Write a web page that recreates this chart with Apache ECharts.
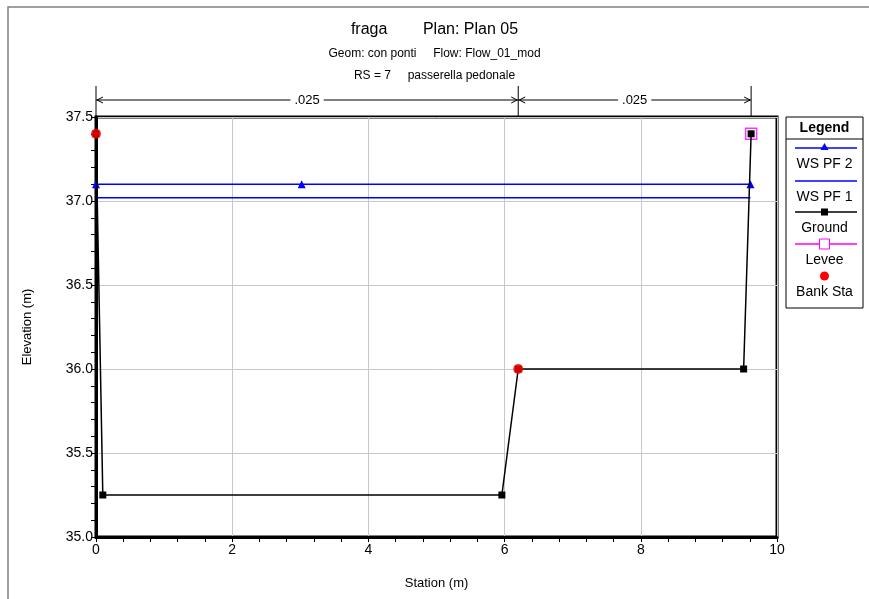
<!DOCTYPE html>
<html>
<head>
    <meta charset="utf-8">
    <title>fraga Plan: Plan 05</title>
    <script src="https://cdn.jsdelivr.net/npm/echarts@6.0.0/dist/echarts.min.js"></script>
    <style>
        html, body { margin: 0; padding: 0; background: #fff; }
        #chart { width: 869px; height: 599px; }
    </style>
</head>
<body>
<div id="chart"></div>
<script>
    // data read from the HEC-RAS cross section
    var wsPf2 = [[0, 37.1], [3.02, 37.1], [9.61, 37.1]];
    var wsPf1 = [[0, 37.02], [9.61, 37.02]];
    var ground = [[0, 37.4], [0.1, 35.25], [5.96, 35.25], [6.2, 36.0], [9.51, 36.0], [9.62, 37.4]];
    var levee = [[9.62, 37.4]];
    var bankSta = [[0, 37.4], [6.2, 36.0]];
    // manning n bands along the top
    var nStations = [0, 6.2, 9.62];
    var nValues = ['.025', '.025'];

    var FONT = '"Liberation Sans", Arial, sans-serif';
    var chart = echarts.init(document.getElementById('chart'));

    var option = {
        animation: false,
        backgroundColor: '#fff',
        textStyle: { fontFamily: FONT },
        title: [
            { text: 'fraga        Plan: Plan 05', left: 'center', top: 17,
              textStyle: { fontSize: 16, fontWeight: 'normal', color: '#000', fontFamily: FONT } },
            { text: 'Geom: con ponti     Flow: Flow_01_mod', left: 'center', top: 43,
              textStyle: { fontSize: 12, fontWeight: 'normal', color: '#000', fontFamily: FONT } },
            { text: 'RS = 7     passerella pedonale', left: 'center', top: 65,
              textStyle: { fontSize: 12, fontWeight: 'normal', color: '#000', fontFamily: FONT } }
        ],
        grid: {
            left: 96, right: 92, top: 117, bottom: 62,
            show: true, borderColor: '#000', borderWidth: 3, backgroundColor: '#fff'
        },
        xAxis: {
            type: 'value', min: 0, max: 10, interval: 2,
            name: 'Station (m)', nameLocation: 'middle', nameGap: 40,
            nameTextStyle: { fontSize: 13, color: '#000' },
            axisLine: { show: true, lineStyle: { color: '#000', width: 3 } },
            axisTick: { show: true, inside: false, length: 5, lineStyle: { color: '#000' } },
            minorTick: { show: true, splitNumber: 5, length: 5, lineStyle: { color: '#000' } },
            axisLabel: { fontSize: 14, color: '#000', margin: 6 },
            splitLine: { show: true, lineStyle: { color: '#c8c8c8', width: 1 } }
        },
        yAxis: {
            type: 'value', min: 35, max: 37.5, interval: 0.5,
            name: 'Elevation (m)', nameLocation: 'middle', nameGap: 62,
            nameTextStyle: { fontSize: 13, color: '#000' },
            axisLine: { show: true, lineStyle: { color: '#000', width: 3 } },
            axisTick: { show: true, inside: false, length: 5, lineStyle: { color: '#000' } },
            minorTick: { show: true, splitNumber: 5, length: 5, lineStyle: { color: '#000' } },
            axisLabel: { fontSize: 14, color: '#000', margin: 3,
                         formatter: function (v) { return v.toFixed(1); } },
            splitLine: { show: true, lineStyle: { color: '#c8c8c8', width: 1 } }
        },
        series: [
            { name: 'WS PF 1', type: 'line', data: wsPf1, showSymbol: false, symbol: 'none',
              lineStyle: { color: '#0000ff', width: 1.5 }, z: 3 },
            { name: 'WS PF 2', type: 'line', data: wsPf2, symbol: 'triangle', symbolSize: 8,
              itemStyle: { color: '#0000ff' }, lineStyle: { color: '#0000ff', width: 1.5 }, z: 3 },
            { name: 'Levee', type: 'scatter', data: levee, symbol: 'rect', symbolSize: 11,
              itemStyle: { color: '#fff', borderColor: '#ff00ff', borderWidth: 1.5 }, z: 4 },
            { name: 'Ground', type: 'line', data: ground, symbol: 'rect', symbolSize: 7,
              itemStyle: { color: '#000' }, lineStyle: { color: '#000', width: 1.5 }, z: 5 },
            { name: 'Bank Sta', type: 'scatter', data: bankSta, symbol: 'circle', symbolSize: 10,
              itemStyle: { color: '#ff0000' }, z: 6 }
        ]
    };
    chart.setOption(option);

    // roughness dimension line above the plot
    var g = [];
    var yTop = chart.convertToPixel({ gridIndex: 0 }, [0, 37.5])[1];
    var yDim = yTop - 17;
    var xs = nStations.map(function (s) { return chart.convertToPixel({ gridIndex: 0 }, [s, 37.5])[0]; });
    xs.forEach(function (x) {
        g.push({ type: 'line', shape: { x1: x, y1: yTop - 31, x2: x, y2: yTop }, style: { stroke: '#000', lineWidth: 1 } });
    });
    for (var i = 0; i < nValues.length; i++) {
        var a = xs[i], b = xs[i + 1];
        g.push({ type: 'line', shape: { x1: a, y1: yDim, x2: b, y2: yDim }, style: { stroke: '#000', lineWidth: 1 } });
        g.push({ type: 'polyline', shape: { points: [[a + 7, yDim - 3], [a + 1, yDim], [a + 7, yDim + 3]] }, style: { stroke: '#000', lineWidth: 1, fill: null } });
        g.push({ type: 'polyline', shape: { points: [[b - 7, yDim - 3], [b - 1, yDim], [b - 7, yDim + 3]] }, style: { stroke: '#000', lineWidth: 1, fill: null } });
        g.push({ type: 'text', x: (a + b) / 2, y: yDim, style: {
            text: nValues[i], fill: '#000', font: '13px ' + FONT, align: 'center', verticalAlign: 'middle',
            backgroundColor: '#fff', padding: [0, 4] } });
    }

    // outer frame
    g.push({ type: 'rect', shape: { x: 8, y: 7, width: 900, height: 700 }, style: { stroke: '#808080', lineWidth: 1.5, fill: null }, z: -10 });

    // legend box
    var lx = 786, lw = 77;
    g.push({ type: 'rect', shape: { x: lx, y: 117, width: lw, height: 191 }, style: { stroke: '#000', lineWidth: 1, fill: '#fff' } });
    g.push({ type: 'line', shape: { x1: lx, y1: 139, x2: lx + lw, y2: 139 }, style: { stroke: '#000', lineWidth: 1 } });
    g.push({ type: 'text', x: lx + lw / 2, y: 128, style: { text: 'Legend', font: 'bold 14px ' + FONT, fill: '#000', align: 'center', verticalAlign: 'middle' } });
    var items = [
        { name: 'WS PF 2', color: '#0000ff', sym: 'tri', y: 148 },
        { name: 'WS PF 1', color: '#0000ff', sym: null, y: 181 },
        { name: 'Ground', color: '#000', sym: 'sq', y: 212 },
        { name: 'Levee', color: '#ff00ff', sym: 'open', y: 244 },
        { name: 'Bank Sta', color: null, sym: 'dot', y: 276 }
    ];
    var cx = lx + lw / 2;
    items.forEach(function (it) {
        if (it.color) {
            g.push({ type: 'line', shape: { x1: lx + 9, y1: it.y, x2: lx + lw - 6, y2: it.y }, style: { stroke: it.color, lineWidth: 1.5 } });
        }
        if (it.sym === 'tri') {
            g.push({ type: 'polygon', shape: { points: [[cx - 4, it.y + 2], [cx + 4, it.y + 2], [cx, it.y - 5]] }, style: { fill: it.color } });
        } else if (it.sym === 'sq') {
            g.push({ type: 'rect', shape: { x: cx - 3.5, y: it.y - 3.5, width: 7, height: 7 }, style: { fill: '#000' } });
        } else if (it.sym === 'open') {
            g.push({ type: 'rect', shape: { x: cx - 5, y: it.y - 5, width: 10, height: 10 }, style: { fill: '#fff', stroke: '#ff00ff', lineWidth: 1 } });
        } else if (it.sym === 'dot') {
            g.push({ type: 'circle', shape: { cx: cx, cy: it.y, r: 4.5 }, style: { fill: '#ff0000' } });
        }
        g.push({ type: 'text', x: cx, y: it.y + 16, style: { text: it.name, font: '14px ' + FONT, fill: '#000', align: 'center', verticalAlign: 'middle' } });
    });

    chart.setOption({ graphic: { elements: g } });
</script>
</body>
</html>
